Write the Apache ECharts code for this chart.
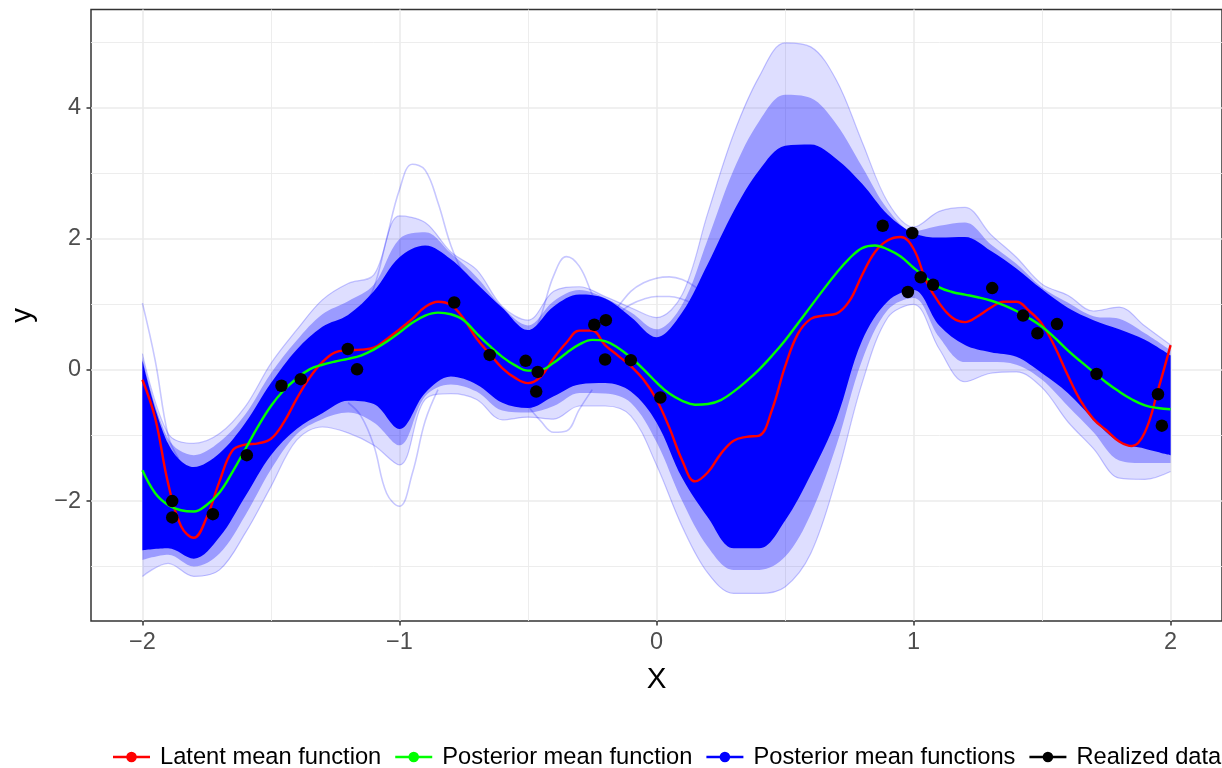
<!DOCTYPE html>
<html>
<head>
<meta charset="utf-8">
<script src="https://cdn.jsdelivr.net/npm/echarts@6/dist/echarts.min.js"></script>
<style>html,body{margin:0;padding:0;background:#fff}#c{width:1222px;height:768px}</style>
</head>
<body>
<div id="c"></div>
<script>
// ---------- data ----------
const xTicks = [-2, -1, 0, 1, 2];
const yTicks = [-2, 0, 2, 4];

// band grid (category positions, padded so that it spans the plotted x range -2.2 .. 2.2)
const xBand = [-2,-1.9,-1.8,-1.7,-1.6,-1.5,-1.4,-1.3,-1.2,-1.1,-1,-0.9,-0.8,-0.7,-0.6,-0.5,-0.4,-0.3,-0.2,-0.1,0,0.1,0.2,0.3,0.4,0.5,0.6,0.7,0.8,0.9,1,1.1,1.2,1.3,1.4,1.5,1.6,1.7,1.8,1.9,2];
const xPadLeft = [-2.2,-2.1];
const xPadRight = [2.1,2.2];

// dense (solid) part of the posterior sample cloud
const denseUpper = [0.15,-1.12,-1.48,-1.27,-0.81,-0.20,0.31,0.66,0.84,1.20,1.72,1.90,1.69,1.32,0.95,0.61,0.97,1.15,1.09,0.81,0.50,0.88,1.62,2.42,3.05,3.42,3.44,3.22,2.84,2.37,2.09,2.02,2.03,1.82,1.55,1.23,0.95,0.76,0.62,0.46,0.22];
const denseLower = [-2.75,-2.72,-2.88,-2.55,-1.93,-1.30,-0.90,-0.66,-0.47,-0.52,-0.90,-0.35,-0.10,-0.22,-0.50,-0.58,-0.40,-0.22,-0.20,-0.33,-0.80,-1.65,-2.25,-2.72,-2.72,-2.30,-1.60,-0.75,0.45,1.05,1.22,0.68,0.38,0.27,0.20,-0.05,-0.35,-0.75,-1.10,-1.20,-1.30];
// zone where the faint curves pile up
const midUpper = [0.20,-1.05,-1.30,-1.10,-0.68,-0.05,0.45,0.85,1.05,1.30,2.00,2.10,1.78,1.42,0.96,0.68,1.05,1.22,1.10,0.88,0.62,1.00,2.00,3.05,3.80,4.20,4.15,3.75,3.10,2.45,2.12,2.20,2.25,1.92,1.62,1.26,1.03,0.82,0.78,0.56,0.30];
const midLower = [-2.90,-2.82,-3.00,-2.80,-2.22,-1.52,-0.98,-0.75,-0.65,-0.80,-1.15,-0.40,-0.22,-0.33,-0.62,-0.65,-0.55,-0.35,-0.36,-0.50,-1.10,-2.00,-2.70,-3.05,-3.05,-2.85,-2.20,-1.15,0.15,0.92,1.10,0.50,0.12,0.12,0.08,-0.15,-0.55,-0.95,-1.38,-1.42,-1.42];
// outermost faint curves
const faintUpper = [0.25,-0.97,-1.12,-0.97,-0.56,0.10,0.61,1.07,1.32,1.45,2.35,2.25,1.80,1.53,0.97,0.76,1.20,1.27,1.12,0.95,0.80,1.15,2.40,3.60,4.48,4.99,4.93,4.42,3.48,2.56,2.18,2.42,2.48,2.07,1.72,1.31,1.14,0.90,0.96,0.67,0.38];
const faintLower = [-3.15,-2.95,-3.15,-3.05,-2.49,-1.78,-1.07,-0.87,-0.96,-1.15,-1.45,-0.45,-0.36,-0.45,-0.76,-0.72,-0.75,-0.55,-0.55,-0.70,-1.45,-2.39,-3.10,-3.41,-3.41,-3.31,-2.80,-1.65,-0.20,0.80,1.00,0.32,-0.18,-0.05,-0.03,-0.27,-0.79,-1.20,-1.65,-1.67,-1.55];

// a few individual faint sample curves that stick out
const spikeX = [-1.15,-1.1,-1.05,-1.0,-0.95,-0.9,-0.85,-0.8,-0.75,-0.7];
const spikeY = [0.9,1.25,2.0,2.75,3.14,3.05,2.55,1.9,1.45,1.1];
const dipX = [-1.2,-1.15,-1.1,-1.05,-1.0,-0.95,-0.9,-0.85];
const dipY = [-0.5,-0.7,-1.15,-1.88,-2.08,-1.58,-0.78,-0.3];
const startX = [-2,-1.95,-1.9,-1.86];
const startY = [1.02,0.14,-1.0,-1.35];
const arcX = [-0.2,-0.15,-0.1,-0.05,0,0.05,0.1,0.15,0.2,0.25];
const arcY = [0.80,0.97,1.20,1.33,1.40,1.42,1.38,1.27,1.10,0.90];
const arc2X = [-0.15,-0.1,-0.05,0,0.05,0.1,0.15,0.2];
const arc2Y = [0.85,1.00,1.08,1.12,1.12,1.08,1.00,0.92];
const bumpX = [-0.5,-0.45,-0.4,-0.35,-0.3,-0.25,-0.2];
const bumpY = [0.35,0.82,1.44,1.73,1.58,1.15,0.72];
const lowBumpX = [-0.5,-0.45,-0.4,-0.35,-0.3,-0.25];
const lowBumpY = [-0.55,-0.78,-0.95,-0.93,-0.6,-0.3];

// 0.05-step grid for the two mean functions
const xFine = [-2,-1.95,-1.9,-1.85,-1.8,-1.75,-1.7,-1.65,-1.6,-1.55,-1.5,-1.45,-1.4,-1.35,-1.3,-1.25,-1.2,-1.15,-1.1,-1.05,-1,-0.95,-0.9,-0.85,-0.8,-0.75,-0.7,-0.65,-0.6,-0.55,-0.5,-0.45,-0.4,-0.35,-0.3,-0.25,-0.2,-0.15,-0.1,-0.05,0,0.05,0.1,0.15,0.2,0.25,0.3,0.35,0.4,0.45,0.5,0.55,0.6,0.65,0.7,0.75,0.8,0.85,0.9,0.95,1,1.05,1.1,1.15,1.2,1.25,1.3,1.35,1.4,1.45,1.5,1.55,1.6,1.65,1.7,1.75,1.8,1.85,1.9,1.95,2];
// latent mean function (red)
const redY = [-0.15,-0.74,-1.73,-2.38,-2.56,-2.25,-1.70,-1.23,-1.14,-1.12,-1.05,-0.80,-0.44,-0.12,0.12,0.27,0.30,0.31,0.34,0.47,0.62,0.78,0.96,1.04,0.99,0.78,0.48,0.25,0.03,-0.12,-0.20,-0.10,0.18,0.42,0.60,0.60,0.38,0.22,0.06,-0.15,-0.45,-0.88,-1.38,-1.70,-1.56,-1.28,-1.08,-1.02,-1.00,-0.60,0.05,0.55,0.78,0.83,0.86,1.05,1.45,1.80,1.98,2.03,1.85,1.35,1.02,0.80,0.73,0.82,0.95,1.04,1.04,0.90,0.70,0.35,-0.08,-0.47,-0.75,-0.92,-1.09,-1.16,-0.95,-0.32,0.38];
// posterior mean function (green)
const greenY = [-1.53,-1.88,-2.06,-2.14,-2.16,-2.06,-1.87,-1.56,-1.21,-0.86,-0.55,-0.31,-0.13,0.01,0.08,0.13,0.17,0.22,0.31,0.43,0.57,0.72,0.83,0.875,0.85,0.76,0.56,0.37,0.20,0.07,-0.01,0.00,0.11,0.26,0.39,0.46,0.44,0.34,0.19,0.01,-0.19,-0.36,-0.47,-0.53,-0.52,-0.46,-0.33,-0.17,0.01,0.22,0.45,0.71,0.97,1.23,1.48,1.70,1.86,1.90,1.84,1.73,1.56,1.40,1.26,1.19,1.15,1.11,1.06,0.99,0.90,0.79,0.66,0.49,0.30,0.13,-0.03,-0.19,-0.33,-0.45,-0.54,-0.58,-0.60];

// realized data
const ptsX = [-1.884,-1.884,-1.726,-1.594,-1.459,-1.384,-1.201,-1.165,-0.787,-0.649,-0.509,-0.462,-0.468,-0.242,-0.197,-0.200,-0.100,0.015,0.880,0.995,1.028,1.076,0.978,1.306,1.426,1.482,1.558,1.712,1.951,1.966];
const ptsY = [-2.00,-2.25,-2.20,-1.30,-0.24,-0.14,0.32,0.01,1.03,0.23,0.14,-0.03,-0.33,0.69,0.76,0.16,0.15,-0.42,2.20,2.09,1.415,1.30,1.19,1.25,0.83,0.56,0.70,-0.06,-0.37,-0.85];

const legendNames = ['Latent mean function','Posterior mean function','Posterior mean functions','Realized data'];

// ---------- chart ----------
const FONT = '"Liberation Sans", Arial, sans-serif';
const BLUE = '#0000FF';
const xCat = xPadLeft.concat(xBand, xPadRight).map(String);
function padBand(arr) { return xPadLeft.map(() => null).concat(arr, xPadRight.map(() => null)); }
function pairs(xs, ys) { return xs.map((x, i) => [x, ys[i]]); }
function bandSeries(id, lower, upper, fill, edge, name) {
  const common = { type: 'line', xAxisIndex: 1, stack: id, stackStrategy: 'all', smooth: 0.35,
    symbol: 'none', showSymbol: false, silent: true };
  const ls = edge ? { color: edge, width: 1.2 } : { width: 0, opacity: 0 };
  return [
    Object.assign({}, common, { name: id + '-lo', data: padBand(lower), lineStyle: ls }),
    Object.assign({}, common, { name: name || (id + '-hi'), data: padBand(upper.map((u, i) => +(u - lower[i]).toFixed(3))),
      lineStyle: ls, areaStyle: { color: fill, opacity: 1 }, itemStyle: { color: fill } })
  ];
}
function faintLine(xs, ys) {
  return { type: 'line', data: pairs(xs, ys), smooth: 0.4, symbol: 'none', silent: true,
    lineStyle: { color: 'rgba(0,0,255,0.22)', width: 1.6 } };
}
const icon = 'path://M0,4H37V6.6H0Z M13.2,5.3A5.3,5.3 0 1 1 23.8,5.3A5.3,5.3 0 1 1 13.2,5.3Z';
const minus = v => (v < 0 ? '\u2212' + (-v) : String(v));

const series = [].concat(
  bandSeries('faint', faintLower, faintUpper, 'rgba(0,0,255,0.13)', 'rgba(0,0,255,0.22)'),
  bandSeries('mid', midLower, midUpper, 'rgba(0,0,255,0.30)', null),
  [faintLine(spikeX, spikeY), faintLine(dipX, dipY), faintLine(startX, startY),
   faintLine(arcX, arcY), faintLine(arc2X, arc2Y), faintLine(bumpX, bumpY), faintLine(lowBumpX, lowBumpY)],
  bandSeries('dense', denseLower, denseUpper, BLUE, null, legendNames[2]),
  [
    { name: legendNames[0], type: 'line', data: pairs(xFine, redY), smooth: 0.4, symbol: 'none',
      lineStyle: { color: '#FF0000', width: 2.4 }, itemStyle: { color: '#FF0000' }, z: 5 },
    { name: legendNames[1], type: 'line', data: pairs(xFine, greenY), smooth: 0.4, symbol: 'none',
      lineStyle: { color: '#00FF00', width: 2.4 }, itemStyle: { color: '#00FF00' }, z: 6 },
    { name: legendNames[3], type: 'scatter', data: pairs(ptsX, ptsY), symbolSize: 12.5,
      itemStyle: { color: '#000000', opacity: 1 }, z: 7 }
  ]
);

const axisCommon = {
  axisLine: { show: false, onZero: false },
  axisTick: { show: true, length: 4.5, lineStyle: { color: '#333333', width: 1.5 } },
  splitLine: { show: true, lineStyle: { color: '#EBEBEB', width: 1.6 } },
  minorTick: { show: false, splitNumber: 2 },
  minorSplitLine: { show: true, lineStyle: { color: '#EBEBEB', width: 0.9 } },
  nameLocation: 'middle',
  nameTextStyle: { fontSize: 29.5, color: '#000000', fontFamily: FONT }
};

const chart = echarts.init(document.getElementById('c'), null, { renderer: 'canvas' });
chart.setOption({
  animation: false,
  backgroundColor: '#FFFFFF',
  grid: { left: 91, top: 9.5, right: -6, bottom: 147, show: true, borderColor: '#333333', borderWidth: 1.5, backgroundColor: 'transparent' },
  xAxis: [
    Object.assign({}, axisCommon, {
      type: 'value', min: -2.2, max: 2.2, name: 'X', nameGap: 44,
      axisTick: Object.assign({}, axisCommon.axisTick, { customValues: xTicks }),
      axisLabel: { customValues: xTicks, formatter: minus, color: '#4D4D4D', fontSize: 23.5, fontFamily: FONT, margin: 10 }
    }),
    { type: 'category', data: xCat, boundaryGap: false, show: false, position: 'bottom',
      axisLine: { show: false, onZero: false }, axisTick: { show: false }, axisLabel: { show: false }, splitLine: { show: false } }
  ],
  yAxis: Object.assign({}, axisCommon, {
    type: 'value', min: -3.83, max: 5.5, name: 'y', nameGap: 53, nameRotate: 90,
    axisTick: Object.assign({}, axisCommon.axisTick, { customValues: yTicks }),
    axisLabel: { customValues: yTicks, formatter: minus, color: '#4D4D4D', fontSize: 23.5, fontFamily: FONT, margin: 10 }
  }),
  legend: {
    left: 113, top: 745, padding: 0, width: 1150, orient: 'horizontal',
    itemWidth: 37, itemHeight: 10.6, itemGap: 14, selectedMode: false,
    textStyle: { fontSize: 23.7, color: '#000000', fontFamily: FONT, padding: [0, 0, 0, 5] },
    data: [
      { name: legendNames[0], icon: icon, itemStyle: { color: '#FF0000', borderWidth: 0, opacity: 1 } },
      { name: legendNames[1], icon: icon, itemStyle: { color: '#00FF00', borderWidth: 0, opacity: 1 } },
      { name: legendNames[2], icon: icon, itemStyle: { color: BLUE, borderWidth: 0, opacity: 1 } },
      { name: legendNames[3], icon: icon, itemStyle: { color: '#000000', borderWidth: 0, opacity: 1 } }
    ]
  },
  series: series
});
</script>
</body>
</html>
